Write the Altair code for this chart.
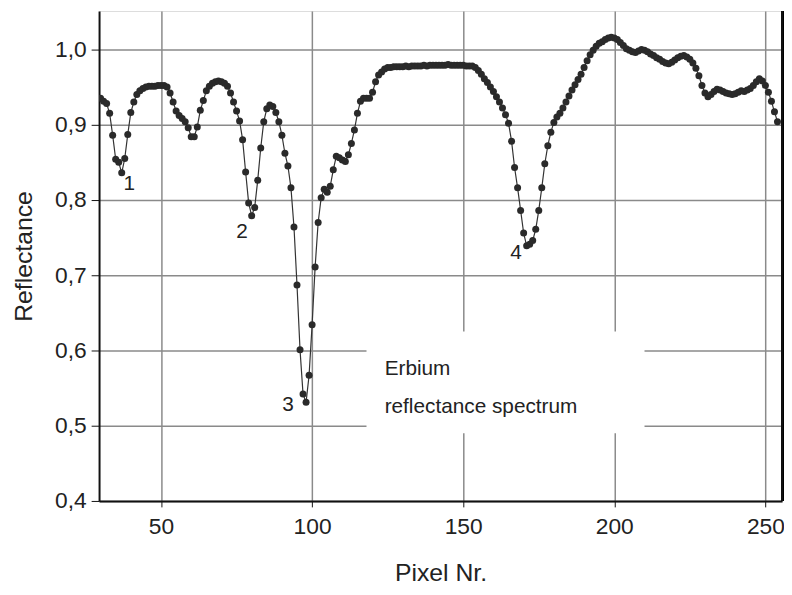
import altair as alt
import pandas as pd

# ---- data ----
pixel = list(range(30, 255))
reflectance = [
    # 30-39
    0.935, 0.931, 0.928, 0.915, 0.886, 0.854, 0.850, 0.836, 0.855, 0.887,
    # 40-49
    0.916, 0.930, 0.940, 0.945, 0.948, 0.950, 0.951, 0.951, 0.951, 0.952,
    # 50-59
    0.952, 0.952, 0.950, 0.942, 0.930, 0.918, 0.912, 0.908, 0.904, 0.896,
    # 60-69
    0.884, 0.884, 0.897, 0.919, 0.932, 0.945, 0.951, 0.955, 0.957, 0.958,
    # 70-79
    0.957, 0.955, 0.951, 0.942, 0.930, 0.918, 0.905, 0.880, 0.837, 0.796,
    # 80-89
    0.779, 0.790, 0.826, 0.869, 0.904, 0.921, 0.926, 0.924, 0.916, 0.904,
    # 90-99
    0.886, 0.862, 0.845, 0.816, 0.764, 0.687, 0.601, 0.542, 0.531, 0.567,
    # 100-109
    0.634, 0.711, 0.770, 0.803, 0.814, 0.810, 0.818, 0.840, 0.858, 0.856,
    # 110-119
    0.853, 0.851, 0.860, 0.875, 0.893, 0.915, 0.931, 0.935, 0.935, 0.935,
    # 120-129
    0.943, 0.957, 0.966, 0.970, 0.974, 0.976, 0.976, 0.977, 0.977, 0.977,
    # 130-139
    0.977, 0.978, 0.977, 0.978, 0.978, 0.978, 0.978, 0.979, 0.978, 0.979,
    # 140-149
    0.979, 0.979, 0.979, 0.979, 0.979, 0.980, 0.979, 0.979, 0.979, 0.979,
    # 150-159
    0.979, 0.978, 0.978, 0.978, 0.976, 0.972, 0.967, 0.961, 0.956, 0.950,
    # 160-169
    0.944, 0.937, 0.930, 0.922, 0.913, 0.902, 0.878, 0.843, 0.816, 0.786,
    # 170-179
    0.756, 0.739, 0.741, 0.746, 0.761, 0.786, 0.816, 0.848, 0.872, 0.890,
    # 180-189
    0.903, 0.910, 0.915, 0.922, 0.930, 0.938, 0.946, 0.953, 0.960, 0.967,
    # 190-199
    0.976, 0.985, 0.993, 0.999, 1.004, 1.008, 1.010, 1.013, 1.015, 1.016,
    # 200-209
    1.015, 1.013, 1.009, 1.005, 1.001, 0.999, 0.997, 0.996, 0.998, 1.000,
    # 210-219
    0.999, 0.997, 0.994, 0.992, 0.989, 0.987, 0.984, 0.982, 0.981, 0.983,
    # 220-229
    0.986, 0.989, 0.991, 0.992, 0.990, 0.987, 0.982, 0.975, 0.965, 0.952,
    # 230-239
    0.942, 0.937, 0.940, 0.944, 0.947, 0.946, 0.944, 0.942, 0.941, 0.940,
    # 240-249
    0.941, 0.943, 0.945, 0.944, 0.946, 0.948, 0.952, 0.957, 0.961, 0.958,
    # 250-254
    0.952, 0.943, 0.931, 0.917, 0.904,
]

peak_labels = ["1", "2", "3", "4"]
peak_label_x = [39.5, 76.8, 92.0, 167.5]
peak_label_y = [0.821, 0.757, 0.528, 0.729]

note_lines = ["Erbium", "reflectance spectrum"]
note_x = [124.0, 124.0]
note_y = [0.575, 0.525]

box_x = [118.0]
box_x2 = [210.0]
box_y = [0.49]
box_y2 = [0.625]

x_ticks = [50, 100, 150, 200, 250]
y_ticks = [0.4, 0.5, 0.6, 0.7, 0.8, 0.9, 1.0]

X_DOMAIN = [29.5, 255.5]
Y_DOMAIN = [0.4, 1.051]

FONT = "Liberation Sans"

df = pd.DataFrame({"pixel": pixel, "refl": reflectance})
lab = pd.DataFrame({"t": peak_labels, "x": peak_label_x, "y": peak_label_y})
notes = pd.DataFrame({"t": note_lines, "x": note_x, "y": note_y})
box = pd.DataFrame({"x": box_x, "x2": box_x2, "y": box_y, "y2": box_y2})

xscale = alt.Scale(domain=X_DOMAIN, nice=False, zero=False)
yscale = alt.Scale(domain=Y_DOMAIN, nice=False, zero=False)

xaxis = alt.Axis(
    values=x_ticks, title="Pixel Nr.", labelFontSize=23, titleFontSize=25,
    labelFont=FONT, titleFont=FONT, labelColor="#222", titleColor="#222",
    titleFontWeight="normal", labelPadding=9, titlePadding=22,
    grid=True, gridColor="#8a8a8a", gridWidth=1.5,
    domainColor="#111", domainWidth=2, tickColor="#111", tickSize=6,
)
yaxis = alt.Axis(
    values=y_ticks, title="Reflectance", labelFontSize=23, titleFontSize=25,
    labelFont=FONT, titleFont=FONT, labelColor="#222", titleColor="#222",
    titleFontWeight="normal", labelPadding=5, titlePadding=18,
    labelExpr="replace(format(datum.value, '.1f'), '.', ',')",
    grid=True, gridColor="#8a8a8a", gridWidth=1.5,
    domainColor="#111", domainWidth=2, tickColor="#111", tickSize=8,
)

base = alt.Chart(df)

rect = alt.Chart(box).mark_rect(color="white").encode(
    x=alt.X("x:Q", scale=xscale, axis=xaxis),
    x2="x2:Q",
    y=alt.Y("y:Q", scale=yscale, axis=yaxis),
    y2="y2:Q",
)

line = base.mark_line(color="#333", strokeWidth=1.2, clip=True).encode(
    x=alt.X("pixel:Q", scale=xscale, axis=xaxis),
    y=alt.Y("refl:Q", scale=yscale, axis=yaxis),
)
pts = base.mark_circle(color="#2a2a2a", size=50, opacity=1, clip=True).encode(
    x=alt.X("pixel:Q", scale=xscale),
    y=alt.Y("refl:Q", scale=yscale),
)

labels = alt.Chart(lab).mark_text(
    font=FONT, fontSize=21, color="#222", align="center", baseline="middle"
).encode(x=alt.X("x:Q", scale=xscale), y=alt.Y("y:Q", scale=yscale), text="t:N")

note = alt.Chart(notes).mark_text(
    font=FONT, fontSize=21, color="#222", align="left", baseline="middle"
).encode(x=alt.X("x:Q", scale=xscale), y=alt.Y("y:Q", scale=yscale), text="t:N")

right_edge = alt.Chart(df).mark_rule(color="#111", strokeWidth=2).encode(
    x=alt.value(690), y=alt.value(0), y2=alt.value(495)
)

chart = (
    alt.layer(rect, line, pts, labels, note, right_edge)
    .properties(
        width=690, height=495,
        autosize=alt.AutoSizeParams(type="none"),
        padding={"left": 92, "top": 0, "right": 2, "bottom": 92},
    )
    .configure_view(stroke=None)
    .configure(background="white")
)

chart.save("out.html", embed_options={"renderer": "svg", "actions": False})
